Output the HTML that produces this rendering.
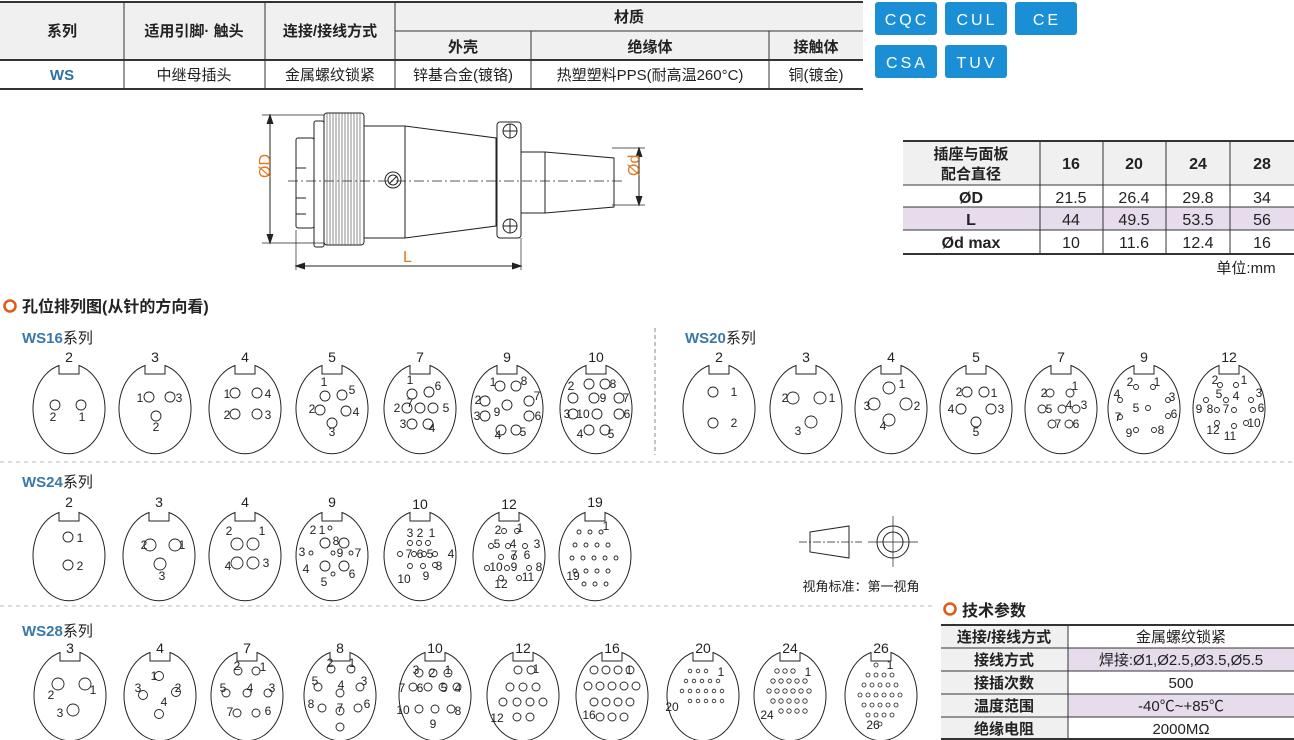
<!DOCTYPE html>
<html><head><meta charset="utf-8"><style>
html,body{margin:0;padding:0;background:#fff;}
body{width:1294px;height:740px;overflow:hidden;position:relative;font-family:"Liberation Sans","Noto Sans CJK SC",sans-serif;}
svg{position:absolute;left:0;top:0;}
</style></head><body>
<svg width="1294" height="740" viewBox="0 0 1294 740" font-family="Liberation Sans, Noto Sans CJK SC, sans-serif">
<defs>
<symbol id="c" overflow="visible"><path d="M10,-42.5 A36,45 0 1 1 -10,-42.5 L-10,-34 L10,-34 Z" fill="none" stroke="#222" stroke-width="1"/></symbol>
</defs>

<!-- top table -->
<rect x="0" y="2" width="863" height="58" fill="#f0f0f0"/>
<g stroke="#333" fill="none">
<line x1="0" y1="2" x2="863" y2="2" stroke-width="2"/>
<line x1="395" y1="31" x2="863" y2="31" stroke-width="1"/>
<line x1="0" y1="60" x2="863" y2="60" stroke-width="2"/>
<line x1="0" y1="89" x2="863" y2="89" stroke-width="2"/>
<line x1="124" y1="2" x2="124" y2="89"/><line x1="265" y1="2" x2="265" y2="89"/><line x1="395" y1="2" x2="395" y2="89"/>
<line x1="531" y1="31" x2="531" y2="89"/><line x1="769" y1="31" x2="769" y2="89"/>
</g>
<g font-size="15" font-weight="bold" fill="#222" text-anchor="middle">
<text x="62" y="36">系列</text><text x="194" y="36">适用引脚· 触头</text><text x="330" y="36">连接/接线方式</text>
<text x="629" y="22">材质</text><text x="463" y="52">外壳</text><text x="650" y="52">绝缘体</text><text x="816" y="52">接触体</text>
</g>
<g font-size="15" fill="#222" text-anchor="middle">
<text x="62" y="80" fill="#2f6fa3" font-weight="bold">WS</text><text x="194" y="80">中继母插头</text><text x="330" y="80">金属螺纹锁紧</text>
<text x="463" y="80">锌基合金(镀铬)</text><text x="650" y="80">热塑塑料PPS(耐高温260°C)</text><text x="816" y="80">铜(镀金)</text>
</g>

<!-- badges -->
<g fill="#1b8fd6"><rect x="875" y="2" width="62" height="33" rx="3"/><rect x="945" y="2" width="62" height="33" rx="3"/><rect x="1015" y="2" width="62" height="33" rx="3"/>
<rect x="875" y="45" width="62" height="33" rx="3"/><rect x="945" y="45" width="62" height="33" rx="3"/></g>
<g fill="#fff" font-size="16" text-anchor="middle" letter-spacing="3">
<text x="907" y="25">CQC</text><text x="977" y="25">CUL</text><text x="1047" y="25">CE</text><text x="907" y="68">CSA</text><text x="977" y="68">TUV</text></g>

<!-- connector drawing -->
<g stroke="#222" fill="none" stroke-width="1">
<line x1="262" y1="115" x2="324" y2="115" stroke-width="0.7"/><line x1="262" y1="243" x2="324" y2="243" stroke-width="0.7"/>
<line x1="270" y1="115" x2="270" y2="243"/><path d="M267,124 L270,115 L273,124 M267,234 L270,243 L273,234" fill="#222"/>
<rect x="296" y="138" width="18" height="90" rx="2"/>
<line x1="296" y1="168" x2="306" y2="168"/><line x1="296" y1="198" x2="306" y2="198"/><line x1="296" y1="214" x2="306" y2="214"/>
<rect x="314" y="121" width="10" height="126" rx="2"/>
<rect x="324" y="113" width="40" height="132" rx="3"/>
<path d="M364,126 L405,126 L496,138 L496,226 L405,238 L364,238"/>
<line x1="405" y1="126" x2="405" y2="238"/>
<rect x="497" y="122" width="24" height="116" rx="3"/>
<path d="M521,152 L545,152 L614,158 L614,207 L545,213 L521,213"/><line x1="545" y1="152" x2="545" y2="213"/>
<circle cx="510" cy="131" r="7"/><circle cx="510" cy="226" r="7"/>
<path d="M503,131h14M510,124v14M503,226h14M510,219v14"/>
<circle cx="393" cy="180" r="8"/><circle cx="393" cy="180" r="5"/><line x1="389" y1="184" x2="397" y2="176"/>
<line x1="288" y1="181" x2="622" y2="181" stroke-dasharray="10,3,2,3" stroke-width="0.7"/>
<line x1="612" y1="148" x2="645" y2="148" stroke-width="0.7"/><line x1="612" y1="205" x2="645" y2="205" stroke-width="0.7"/>
<line x1="639" y1="148" x2="639" y2="205"/><path d="M636,157 L639,148 L642,157 M636,196 L639,205 L642,196" fill="#222"/>
<line x1="296" y1="230" x2="296" y2="270" stroke-width="0.7"/><line x1="521" y1="238" x2="521" y2="270" stroke-width="0.7"/>
<line x1="296" y1="266" x2="521" y2="266"/><path d="M305,263 L296,266 L305,269 M512,263 L521,266 L512,269" fill="#222"/>
</g>
<g stroke="#444" stroke-width="0.6">
<path d="M327,113v132M330,113v132M333,113v132M336,113v132M339,113v132M342,113v132M345,113v132M348,113v132M351,113v132M354,113v132M357,113v132M360,113v132"/>
</g>
<g fill="#e07a1f" font-size="16">
<text x="265" y="183" transform="rotate(-90 265 178)">ØD</text>
<text x="634" y="181" transform="rotate(-90 634 176)">Ød</text>
<text x="403" y="262">L</text></g>

<!-- dims table -->
<rect x="903" y="141" width="391" height="44" fill="#f0f0f0"/>
<rect x="903" y="207" width="391" height="23" fill="#e6dcec"/>
<g stroke="#333" fill="none">
<line x1="903" y1="141" x2="1294" y2="141" stroke-width="2"/><line x1="903" y1="185" x2="1294" y2="185"/>
<line x1="903" y1="207" x2="1294" y2="207"/><line x1="903" y1="230" x2="1294" y2="230"/><line x1="903" y1="254" x2="1294" y2="254" stroke-width="2"/>
<line x1="1040" y1="141" x2="1040" y2="254"/><line x1="1103" y1="141" x2="1103" y2="254"/><line x1="1166" y1="141" x2="1166" y2="254"/><line x1="1230" y1="141" x2="1230" y2="254"/>
</g>
<g font-size="16" text-anchor="middle" fill="#222">
<text x="971" y="159" font-weight="bold" font-size="15">插座与面板</text><text x="971" y="179" font-weight="bold" font-size="15">配合直径</text>
<text x="1071" y="169" font-weight="bold">16</text><text x="1134" y="169" font-weight="bold">20</text><text x="1198" y="169" font-weight="bold">24</text><text x="1262" y="169" font-weight="bold">28</text>
<text x="971" y="203" font-weight="bold">ØD</text><text x="1071" y="203">21.5</text><text x="1134" y="203">26.4</text><text x="1198" y="203">29.8</text><text x="1262" y="203">34</text>
<text x="971" y="225" font-weight="bold">L</text><text x="1071" y="225">44</text><text x="1134" y="225">49.5</text><text x="1198" y="225">53.5</text><text x="1262" y="225">56</text>
<text x="971" y="248" font-weight="bold">Ød max</text><text x="1071" y="248">10</text><text x="1134" y="248">11.6</text><text x="1198" y="248">12.4</text><text x="1262" y="248">16</text>
<text x="1246" y="273" font-size="15">单位:mm</text>
</g>

<!-- section heading -->
<circle cx="10" cy="306" r="5.5" fill="none" stroke="#e05a1a" stroke-width="2.6"/>
<text x="22" y="312" font-size="16" font-weight="bold" fill="#222">孔位排列图(从针的方向看)</text>
<g font-size="15" fill="#222">
<text x="22" y="343"><tspan fill="#3a78a8" font-weight="bold">WS16</tspan>系列</text>
<text x="685" y="343"><tspan fill="#3a78a8" font-weight="bold">WS20</tspan>系列</text>
<text x="22" y="487"><tspan fill="#3a78a8" font-weight="bold">WS24</tspan>系列</text>
<text x="22" y="636"><tspan fill="#3a78a8" font-weight="bold">WS28</tspan>系列</text>
</g>
<line x1="655" y1="328" x2="655" y2="455" stroke="#888" stroke-dasharray="4,3"/>
<line x1="0" y1="462" x2="1294" y2="462" stroke="#bbb" stroke-dasharray="4,4"/>
<line x1="0" y1="606" x2="935" y2="606" stroke="#bbb" stroke-dasharray="4,4"/>

<!-- connector outlines -->
<g>
<use href="#c" x="69" y="408"/><use href="#c" x="155" y="408"/><use href="#c" x="245" y="408"/><use href="#c" x="332" y="408"/><use href="#c" x="420" y="408"/><use href="#c" x="507" y="408"/><use href="#c" x="596" y="408"/>
<use href="#c" x="719" y="408"/><use href="#c" x="806" y="408"/><use href="#c" x="891" y="408"/><use href="#c" x="976" y="408"/><use href="#c" x="1061" y="408"/><use href="#c" x="1144" y="408"/><use href="#c" x="1229" y="408"/>
<use href="#c" x="69" y="555"/><use href="#c" x="159" y="555"/><use href="#c" x="245" y="555"/><use href="#c" x="332" y="555"/><use href="#c" x="420" y="555"/><use href="#c" x="509" y="555"/><use href="#c" x="595" y="555"/>
<use href="#c" x="70" y="695"/><use href="#c" x="160" y="695"/><use href="#c" x="247" y="695"/><use href="#c" x="340" y="695"/><use href="#c" x="435" y="695"/><use href="#c" x="523" y="695"/><use href="#c" x="612" y="695"/><use href="#c" x="703" y="695"/><use href="#c" x="790" y="695"/><use href="#c" x="881" y="695"/>
</g>
<g font-size="14" fill="#222" text-anchor="middle">
<text x="69" y="362">2</text><text x="155" y="362">3</text><text x="245" y="362">4</text><text x="332" y="362">5</text><text x="420" y="362">7</text><text x="507" y="362">9</text><text x="596" y="362">10</text>
<text x="719" y="362">2</text><text x="806" y="362">3</text><text x="891" y="362">4</text><text x="976" y="362">5</text><text x="1061" y="362">7</text><text x="1144" y="362">9</text><text x="1229" y="362">12</text>
<text x="69" y="507">2</text><text x="159" y="507">3</text><text x="245" y="507">4</text><text x="332" y="507">9</text><text x="420" y="509">10</text><text x="509" y="509">12</text><text x="595" y="507">19</text>
<text x="70" y="653">3</text><text x="160" y="653">4</text><text x="247" y="653">7</text><text x="340" y="653">8</text><text x="435" y="653">10</text><text x="523" y="653">12</text><text x="612" y="653">16</text><text x="703" y="653">20</text><text x="790" y="653">24</text><text x="881" y="653">26</text>
</g>

<!-- pins -->
<g fill="none" stroke="#222" stroke-width="0.9">
<!-- WS16 -->
<g transform="translate(69,408)"><circle cx="-14" cy="-3" r="5"/><circle cx="12" cy="-3" r="5"/></g>
<g transform="translate(155,408)"><circle cx="-6" cy="-11" r="5"/><circle cx="15" cy="-11" r="5"/><circle cx="1" cy="8" r="5"/></g>
<g transform="translate(245,408)"><circle cx="-10" cy="-15" r="5"/><circle cx="12" cy="-15" r="5"/><circle cx="-10" cy="6" r="5"/><circle cx="12" cy="6" r="5"/></g>
<g transform="translate(332,408)"><circle cx="-7" cy="-12" r="5"/><circle cx="10" cy="-13" r="5"/><circle cx="-12" cy="2" r="5"/><circle cx="14" cy="3" r="5"/><circle cx="0" cy="15" r="5"/></g>
<g transform="translate(420,408)"><circle cx="-8" cy="-14" r="5"/><circle cx="9" cy="-16" r="5"/><circle cx="-13" cy="0" r="5"/><circle cx="0" cy="0" r="5"/><circle cx="13" cy="0" r="5"/><circle cx="-8" cy="16" r="5"/><circle cx="8" cy="16" r="5"/></g>
<g transform="translate(507,408)"><circle cx="-7" cy="-22" r="5"/><circle cx="9" cy="-22" r="5"/><circle cx="-22" cy="-7" r="5"/><circle cx="22" cy="-7" r="5"/><circle cx="0" cy="-3" r="5"/><circle cx="-22" cy="8" r="5"/><circle cx="22" cy="8" r="5"/><circle cx="-6" cy="22" r="5"/><circle cx="9" cy="22" r="5"/></g>
<g transform="translate(596,408)"><circle cx="-7" cy="-24" r="5"/><circle cx="9" cy="-24" r="5"/><circle cx="-23" cy="-10" r="5"/><circle cx="-2" cy="-10" r="5"/><circle cx="23" cy="-10" r="5"/><circle cx="-23" cy="6" r="5"/><circle cx="1" cy="6" r="5"/><circle cx="23" cy="6" r="5"/><circle cx="-7" cy="22" r="5"/><circle cx="9" cy="22" r="5"/></g>
<!-- WS20 -->
<g transform="translate(719,408)"><circle cx="-6" cy="-16" r="5"/><circle cx="-6" cy="15" r="5"/></g>
<g transform="translate(806,408)"><circle cx="-13" cy="-10" r="6"/><circle cx="14" cy="-10" r="6"/><circle cx="5" cy="14" r="6"/></g>
<g transform="translate(891,408)"><circle cx="-2" cy="-20" r="6"/><circle cx="-17" cy="-4" r="6"/><circle cx="15" cy="-4" r="6"/><circle cx="-2" cy="12" r="6"/></g>
<g transform="translate(976,408)"><circle cx="-9" cy="-16" r="5"/><circle cx="8" cy="-16" r="5"/><circle cx="-15" cy="1" r="5"/><circle cx="15" cy="1" r="5"/><circle cx="0" cy="14" r="5"/></g>
<g transform="translate(1061,408)"><circle cx="-11" cy="-15" r="4"/><circle cx="9" cy="-15" r="4"/><circle cx="-19" cy="1" r="4"/><circle cx="1" cy="1" r="4"/><circle cx="15" cy="1" r="4"/><circle cx="-9" cy="16" r="4"/><circle cx="8" cy="16" r="4"/></g>
<g transform="translate(1144,408)"><circle cx="-8" cy="-21" r="2.5"/><circle cx="9" cy="-21" r="2.5"/><circle cx="-24" cy="-8" r="2.5"/><circle cx="24" cy="-8" r="2.5"/><circle cx="4" cy="0" r="2.5"/><circle cx="-24" cy="9" r="2.5"/><circle cx="24" cy="8" r="2.5"/><circle cx="-8" cy="22" r="2.5"/><circle cx="10" cy="22" r="2.5"/></g>
<g transform="translate(1229,408)"><circle cx="-9" cy="-23" r="2.5"/><circle cx="7" cy="-23" r="2.5"/><circle cx="-23" cy="-8" r="2.5"/><circle cx="-3" cy="-8" r="2.5"/><circle cx="22" cy="-8" r="2.5"/><circle cx="-12" cy="2" r="2.5"/><circle cx="5" cy="2" r="2.5"/><circle cx="24" cy="2" r="2.5"/><circle cx="-12" cy="15" r="2.5"/><circle cx="5" cy="18" r="2.5"/><circle cx="17" cy="15" r="2.5"/></g>
<!-- WS24 -->
<g transform="translate(69,555)"><circle cx="-1" cy="-18" r="5"/><circle cx="-1" cy="10" r="5"/></g>
<g transform="translate(159,555)"><circle cx="-9" cy="-10" r="6"/><circle cx="16" cy="-10" r="6"/><circle cx="1" cy="9" r="6"/></g>
<g transform="translate(245,555)"><circle cx="-8" cy="-11" r="6"/><circle cx="8" cy="-11" r="6"/><circle cx="-8" cy="8" r="6"/><circle cx="8" cy="8" r="6"/></g>
<g transform="translate(332,555)"><circle cx="-2" cy="-27" r="2"/><circle cx="-7" cy="-12" r="5"/><circle cx="12" cy="-12" r="5"/><circle cx="-21" cy="-2" r="2"/><circle cx="1" cy="-2" r="2"/><circle cx="19" cy="-2" r="2"/><circle cx="-7" cy="11" r="5"/><circle cx="12" cy="11" r="5"/><circle cx="1" cy="19" r="2"/></g>
<g transform="translate(420,555)"><circle cx="-10" cy="-12" r="2.5"/><circle cx="-1" cy="-12" r="2.5"/><circle cx="8" cy="-12" r="2.5"/><circle cx="-20" cy="-1" r="2.5"/><circle cx="-6" cy="-1" r="2.5"/><circle cx="4" cy="-1" r="2.5"/><circle cx="15" cy="-1" r="2.5"/><circle cx="-10" cy="11" r="2.5"/><circle cx="3" cy="11" r="2.5"/><circle cx="15" cy="10" r="2.5"/></g>
<g transform="translate(509,555)"><circle cx="-5" cy="-24" r="2.5"/><circle cx="8" cy="-24" r="2.5"/><circle cx="-18" cy="-9" r="2.5"/><circle cx="-1" cy="-9" r="2.5"/><circle cx="16" cy="-9" r="2.5"/><circle cx="-8" cy="2" r="2.5"/><circle cx="5" cy="2" r="2.5"/><circle cx="-22" cy="13" r="2.5"/><circle cx="-2" cy="13" r="2.5"/><circle cx="20" cy="13" r="2.5"/><circle cx="-8" cy="23" r="2.5"/><circle cx="10" cy="23" r="2.5"/></g>
<g transform="translate(595,555)"><circle cx="-16" cy="-23" r="2"/><circle cx="-5" cy="-23" r="2"/><circle cx="6" cy="-23" r="2"/><circle cx="-20" cy="-10" r="2"/><circle cx="-9" cy="-10" r="2"/><circle cx="2" cy="-10" r="2"/><circle cx="13" cy="-10" r="2"/><circle cx="-23" cy="3" r="2"/><circle cx="-12" cy="3" r="2"/><circle cx="-1" cy="3" r="2"/><circle cx="10" cy="3" r="2"/><circle cx="21" cy="3" r="2"/><circle cx="-20" cy="16" r="2"/><circle cx="-9" cy="16" r="2"/><circle cx="2" cy="16" r="2"/><circle cx="13" cy="16" r="2"/><circle cx="-11" cy="29" r="2"/><circle cx="0" cy="29" r="2"/><circle cx="11" cy="29" r="2"/></g>
<!-- WS28 -->
<g transform="translate(70,695)"><circle cx="-12" cy="-11" r="6"/><circle cx="15" cy="-11" r="6"/><circle cx="3" cy="15" r="6"/></g>
<g transform="translate(160,695)"><circle cx="-1" cy="-19" r="4.5"/><circle cx="-17" cy="0" r="4.5"/><circle cx="16" cy="-3" r="4.5"/><circle cx="-1" cy="19" r="4.5"/></g>
<g transform="translate(247,695)"><circle cx="-9" cy="-24" r="4"/><circle cx="9" cy="-24" r="4"/><circle cx="-21" cy="-2" r="4"/><circle cx="0" cy="-2" r="4"/><circle cx="21" cy="-2" r="4"/><circle cx="-10" cy="18" r="4"/><circle cx="9" cy="18" r="4"/></g>
<g transform="translate(340,695)"><circle cx="-9" cy="-26" r="4"/><circle cx="11" cy="-26" r="4"/><circle cx="-22" cy="-8" r="4"/><circle cx="20" cy="-8" r="4"/><circle cx="0" cy="-2" r="4"/><circle cx="-18" cy="13" r="4"/><circle cx="0" cy="16" r="4"/><circle cx="18" cy="13" r="4"/><circle cx="0" cy="32" r="4"/></g>
<g transform="translate(435,695)"><circle cx="-16" cy="-22" r="4"/><circle cx="-2" cy="-22" r="4"/><circle cx="13" cy="-22" r="4"/><circle cx="-22" cy="-8" r="4"/><circle cx="-7" cy="-8" r="4"/><circle cx="8" cy="-8" r="4"/><circle cx="22" cy="-8" r="4"/><circle cx="-16" cy="14" r="4"/><circle cx="0" cy="14" r="4"/><circle cx="16" cy="14" r="4"/></g>
<g transform="translate(523,695)"><circle cx="-5" cy="-25" r="4"/><circle cx="8" cy="-25" r="4"/><circle cx="-13" cy="-8" r="4"/><circle cx="0" cy="-8" r="4"/><circle cx="13" cy="-8" r="4"/><circle cx="-20" cy="7" r="4"/><circle cx="-6" cy="7" r="4"/><circle cx="7" cy="7" r="4"/><circle cx="20" cy="7" r="4"/><circle cx="-6" cy="22" r="4"/><circle cx="7" cy="22" r="4"/></g>
<g transform="translate(612,695)"><circle cx="-18" cy="-25" r="4"/><circle cx="-6" cy="-25" r="4"/><circle cx="6" cy="-25" r="4"/><circle cx="18" cy="-25" r="4"/><circle cx="-24" cy="-9" r="4"/><circle cx="-12" cy="-9" r="4"/><circle cx="0" cy="-9" r="4"/><circle cx="12" cy="-9" r="4"/><circle cx="24" cy="-9" r="4"/><circle cx="-18" cy="7" r="4"/><circle cx="-6" cy="7" r="4"/><circle cx="6" cy="7" r="4"/><circle cx="18" cy="7" r="4"/><circle cx="-12" cy="22" r="4"/><circle cx="0" cy="22" r="4"/><circle cx="12" cy="22" r="4"/></g>
<g transform="translate(703,695)" stroke-width="0.8"><circle cx="-13" cy="-24" r="1.8"/><circle cx="-5" cy="-24" r="1.8"/><circle cx="3" cy="-24" r="1.8"/><circle cx="-17" cy="-14" r="1.8"/><circle cx="-9" cy="-14" r="1.8"/><circle cx="-1" cy="-14" r="1.8"/><circle cx="7" cy="-14" r="1.8"/><circle cx="15" cy="-14" r="1.8"/><circle cx="-21" cy="-4" r="1.8"/><circle cx="-13" cy="-4" r="1.8"/><circle cx="-5" cy="-4" r="1.8"/><circle cx="3" cy="-4" r="1.8"/><circle cx="11" cy="-4" r="1.8"/><circle cx="19" cy="-4" r="1.8"/><circle cx="-13" cy="6" r="1.8"/><circle cx="-5" cy="6" r="1.8"/><circle cx="3" cy="6" r="1.8"/><circle cx="11" cy="6" r="1.8"/><circle cx="19" cy="6" r="1.8"/></g>
<g transform="translate(790,695)" stroke-width="0.8"><circle cx="-13" cy="-24" r="2.2"/><circle cx="-5" cy="-24" r="2.2"/><circle cx="3" cy="-24" r="2.2"/><circle cx="-17" cy="-14" r="2.2"/><circle cx="-9" cy="-14" r="2.2"/><circle cx="-1" cy="-14" r="2.2"/><circle cx="7" cy="-14" r="2.2"/><circle cx="15" cy="-14" r="2.2"/><circle cx="-21" cy="-4" r="2.2"/><circle cx="-13" cy="-4" r="2.2"/><circle cx="-5" cy="-4" r="2.2"/><circle cx="3" cy="-4" r="2.2"/><circle cx="11" cy="-4" r="2.2"/><circle cx="19" cy="-4" r="2.2"/><circle cx="-17" cy="6" r="2.2"/><circle cx="-9" cy="6" r="2.2"/><circle cx="-1" cy="6" r="2.2"/><circle cx="7" cy="6" r="2.2"/><circle cx="15" cy="6" r="2.2"/><circle cx="-9" cy="16" r="2.2"/><circle cx="-1" cy="16" r="2.2"/><circle cx="7" cy="16" r="2.2"/><circle cx="15" cy="16" r="2.2"/></g>
<g transform="translate(881,695)" stroke-width="0.8"><circle cx="-5" cy="-30" r="2"/><circle cx="-13" cy="-20" r="2"/><circle cx="-5" cy="-20" r="2"/><circle cx="3" cy="-20" r="2"/><circle cx="11" cy="-20" r="2"/><circle cx="-17" cy="-10" r="2"/><circle cx="-9" cy="-10" r="2"/><circle cx="-1" cy="-10" r="2"/><circle cx="7" cy="-10" r="2"/><circle cx="15" cy="-10" r="2"/><circle cx="-21" cy="0" r="2"/><circle cx="-13" cy="0" r="2"/><circle cx="-5" cy="0" r="2"/><circle cx="3" cy="0" r="2"/><circle cx="11" cy="0" r="2"/><circle cx="19" cy="0" r="2"/><circle cx="-17" cy="10" r="2"/><circle cx="-9" cy="10" r="2"/><circle cx="-1" cy="10" r="2"/><circle cx="7" cy="10" r="2"/><circle cx="15" cy="10" r="2"/><circle cx="-13" cy="20" r="2"/><circle cx="-5" cy="20" r="2"/><circle cx="3" cy="20" r="2"/><circle cx="11" cy="20" r="2"/><circle cx="-1" cy="29" r="2"/></g>
</g>

<!-- pin labels -->
<g font-size="12" fill="#222" text-anchor="middle">
<text x="53" y="421">2</text><text x="82" y="421">1</text>
<text x="140" y="402">1</text><text x="179" y="402">3</text><text x="156" y="431">2</text>
<text x="227" y="398">1</text><text x="268" y="398">4</text><text x="227" y="419">2</text><text x="268" y="419">3</text>
<text x="324" y="386">1</text><text x="352" y="394">5</text><text x="312" y="413">2</text><text x="356" y="416">4</text><text x="332" y="436">3</text>
<text x="410" y="384">1</text><text x="438" y="390">6</text><text x="397" y="412">2</text><text x="410" y="407">7</text><text x="446" y="412">5</text><text x="403" y="428">3</text><text x="432" y="432">4</text>
<text x="493" y="386">1</text><text x="524" y="385">8</text><text x="478" y="404">2</text><text x="537" y="400">7</text><text x="477" y="420">3</text><text x="497" y="416">9</text><text x="538" y="420">6</text><text x="498" y="439">4</text><text x="523" y="436">5</text>
<text x="571" y="390">2</text><text x="613" y="388">8</text><text x="603" y="402">9</text><text x="626" y="402">7</text><text x="567" y="418">3</text><text x="583" y="418">10</text><text x="627" y="418">6</text><text x="580" y="438">4</text><text x="611" y="438">5</text>
<text x="734" y="396">1</text><text x="734" y="427">2</text>
<text x="785" y="402">2</text><text x="832" y="402">1</text><text x="798" y="435">3</text>
<text x="902" y="388">1</text><text x="867" y="410">3</text><text x="917" y="410">2</text><text x="883" y="430">4</text>
<text x="959" y="396">2</text><text x="994" y="397">1</text><text x="951" y="413">4</text><text x="1001" y="413">3</text><text x="976" y="436">5</text>
<text x="1044" y="397">2</text><text x="1075" y="390">1</text><text x="1049" y="413">5</text><text x="1069" y="409">4</text><text x="1084" y="409">3</text><text x="1058" y="428">7</text><text x="1076" y="428">6</text>
<text x="1130" y="386">2</text><text x="1157" y="386">1</text><text x="1117" y="398">4</text><text x="1172" y="401">3</text><text x="1136" y="412">5</text><text x="1118" y="421">7</text><text x="1174" y="418">6</text><text x="1129" y="437">9</text><text x="1161" y="434">8</text>
<text x="1215" y="384">2</text><text x="1244" y="384">1</text><text x="1219" y="398">5</text><text x="1236" y="400">4</text><text x="1259" y="397">3</text><text x="1199" y="413">9</text><text x="1210" y="413">8</text><text x="1226" y="413">7</text><text x="1261" y="412">6</text><text x="1254" y="427">10</text><text x="1213" y="434">12</text><text x="1230" y="440">11</text>
<text x="80" y="542">1</text><text x="80" y="570">2</text>
<text x="144" y="549">2</text><text x="182" y="549">1</text><text x="162" y="580">3</text>
<text x="229" y="535">2</text><text x="262" y="535">1</text><text x="228" y="570">4</text><text x="266" y="567">3</text>
<text x="313" y="534">2</text><text x="322" y="534">1</text><text x="336" y="545">8</text><text x="302" y="556">3</text><text x="340" y="557">9</text><text x="358" y="557">7</text><text x="306" y="573">4</text><text x="352" y="578">6</text><text x="324" y="586">5</text>
<text x="410" y="537">3</text><text x="420" y="537">2</text><text x="432" y="537">1</text><text x="409" y="558">7</text><text x="420" y="558">6</text><text x="430" y="558">5</text><text x="451" y="558">4</text><text x="439" y="570">8</text><text x="404" y="583">10</text><text x="426" y="580">9</text>
<text x="498" y="534">2</text><text x="520" y="532">1</text><text x="497" y="548">5</text><text x="513" y="548">4</text><text x="537" y="548">3</text><text x="514" y="559">7</text><text x="527" y="559">6</text><text x="496" y="571">10</text><text x="514" y="571">9</text><text x="539" y="571">8</text><text x="501" y="588">12</text><text x="528" y="581">11</text>
<text x="606" y="530">1</text><text x="573" y="580">19</text>
<text x="51" y="699">2</text><text x="93" y="694">1</text><text x="60" y="717">3</text>
<text x="154" y="680">1</text><text x="138" y="692">3</text><text x="178" y="692">2</text><text x="164" y="706">4</text>
<text x="237" y="670">2</text><text x="263" y="671">1</text><text x="223" y="692">5</text><text x="250" y="692">4</text><text x="272" y="692">3</text><text x="230" y="716">7</text><text x="268" y="715">6</text>
<text x="330" y="667">2</text><text x="352" y="667">1</text><text x="315" y="685">5</text><text x="341" y="689">4</text><text x="364" y="685">3</text><text x="311" y="708">8</text><text x="340" y="712">7</text><text x="367" y="708">6</text>
<text x="416" y="674">3</text><text x="432" y="677">2</text><text x="448" y="674">1</text><text x="402" y="692">7</text><text x="420" y="692">6</text><text x="444" y="692">5</text><text x="458" y="692">4</text><text x="403" y="714">10</text><text x="458" y="715">8</text><text x="433" y="728">9</text>
<text x="536" y="673">1</text><text x="497" y="722">12</text>
<text x="629" y="674">1</text><text x="589" y="719">16</text>
<text x="721" y="676">1</text><text x="672" y="711">20</text>
<text x="808" y="676">1</text><text x="767" y="719">24</text>
<text x="890" y="669">1</text><text x="873" y="729">26</text>
</g>

<!-- view standard -->
<g stroke="#222" fill="none" stroke-width="1">
<path d="M810,532 L849,526 L849,558 L810,552 Z"/>
<line x1="799" y1="542" x2="862" y2="542" stroke-dasharray="8,2,2,2" stroke-width="0.7"/>
<circle cx="893" cy="542" r="16"/><circle cx="893" cy="542" r="10"/>
<line x1="868" y1="542" x2="918" y2="542" stroke-width="0.7"/><line x1="893" y1="516" x2="893" y2="567" stroke-width="0.7"/>
</g>
<text x="861" y="591" font-size="13" fill="#222" text-anchor="middle">视角标准：第一视角</text>

<!-- tech params -->
<circle cx="950" cy="609" r="5.5" fill="none" stroke="#e05a1a" stroke-width="2.6"/>
<text x="962" y="616" font-size="16" font-weight="bold" fill="#222">技术参数</text>
<rect x="941" y="625" width="127" height="115" fill="#f0f0f0"/>
<rect x="1068" y="648" width="226" height="23" fill="#e6dcec"/><rect x="1068" y="694" width="226" height="23" fill="#e6dcec"/>
<g stroke="#333" fill="none">
<line x1="941" y1="625" x2="1294" y2="625" stroke-width="2"/><line x1="941" y1="648" x2="1294" y2="648"/><line x1="941" y1="671" x2="1294" y2="671"/><line x1="941" y1="694" x2="1294" y2="694"/><line x1="941" y1="717" x2="1294" y2="717"/><line x1="941" y1="739" x2="1294" y2="739" stroke-width="2"/>
<line x1="1068" y1="625" x2="1068" y2="740"/>
</g>
<g font-size="15" fill="#222" text-anchor="middle">
<text x="1004" y="642" font-weight="bold">连接/接线方式</text><text x="1004" y="665" font-weight="bold">接线方式</text><text x="1004" y="688" font-weight="bold">接插次数</text><text x="1004" y="711" font-weight="bold">温度范围</text><text x="1004" y="734" font-weight="bold">绝缘电阻</text>
<text x="1181" y="642">金属螺纹锁紧</text><text x="1181" y="665">焊接:Ø1,Ø2.5,Ø3.5,Ø5.5</text><text x="1181" y="688">500</text><text x="1181" y="711">-40℃~+85℃</text><text x="1181" y="734">2000MΩ</text>
</g>
</svg>
</body></html>
